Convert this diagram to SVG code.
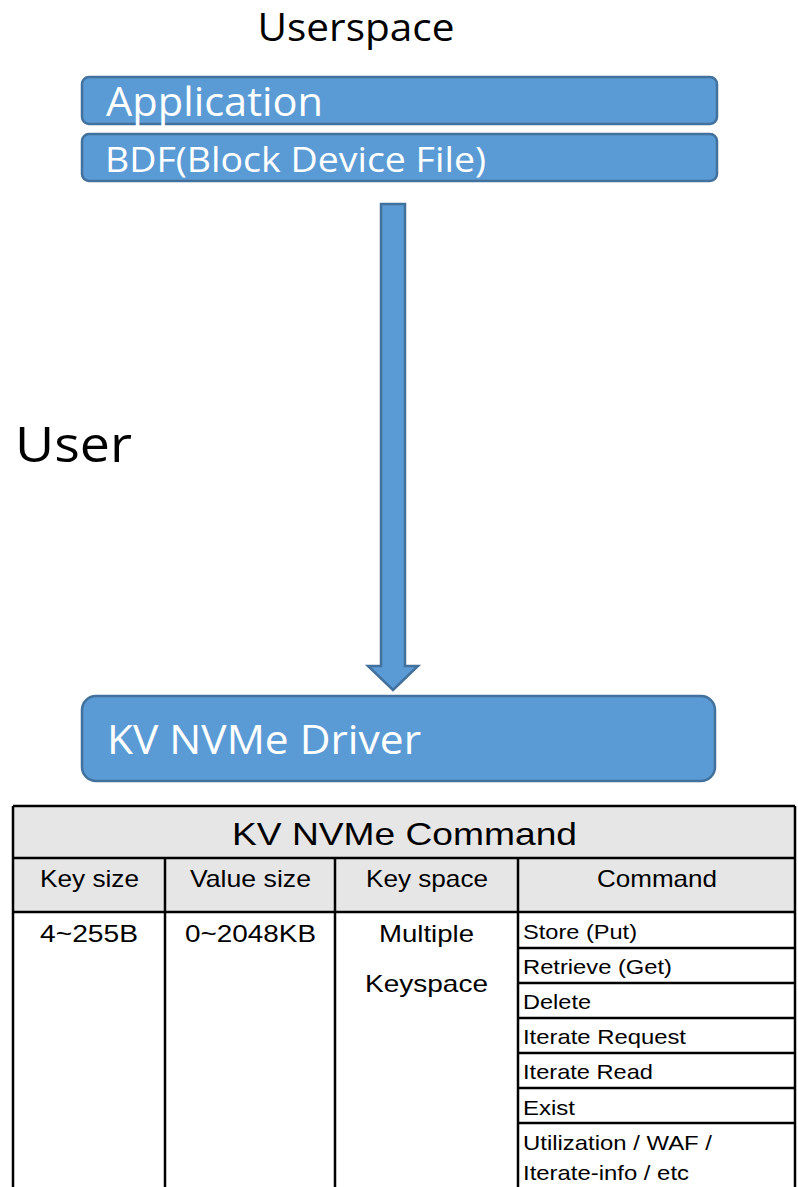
<svg xmlns="http://www.w3.org/2000/svg" width="798" height="1187" viewBox="0 0 798 1187">
  <style>
    .box { fill: #5B9BD5; stroke: #41719C; stroke-width: 2.5; }
    .btxt { fill: #ffffff; font-family: "Open Sans", "Noto Sans", sans-serif; }
    .ltxt { fill: #000000; font-family: "Open Sans", "Noto Sans", sans-serif; }
    .grid { stroke: #000000; stroke-width: 2.5; fill: none; }
    .hdr { fill: #E6E6E6; }
    .t { fill: #000000; font-family: "Liberation Sans", Arial, sans-serif; }
  </style>
  <rect width="798" height="1187" fill="#ffffff"/>

  <text class="ltxt" x="356" y="41" font-size="38" text-anchor="middle" textLength="197" lengthAdjust="spacingAndGlyphs">Userspace</text>
  <text class="ltxt" x="15" y="462" font-size="50" textLength="117" lengthAdjust="spacingAndGlyphs">User</text>

  <g id="application">
    <rect class="box" x="82" y="77" width="635" height="47" rx="7"/>
    <text class="btxt" x="106" y="116" font-size="40" textLength="217" lengthAdjust="spacingAndGlyphs">Application</text>
  </g>
  <g id="bdf">
    <rect class="box" x="82" y="134" width="635" height="47" rx="7"/>
    <text class="btxt" x="105" y="172" font-size="34" textLength="381" lengthAdjust="spacingAndGlyphs">BDF(Block Device File)</text>
  </g>

  <g id="connectors">
    <path class="box" d="M381,204 L405,204 L405,666 L418,666 L393,690 L368,666 L381,666 Z"/>
  </g>

  <g id="driver">
    <rect class="box" x="82" y="696" width="633" height="85" rx="14"/>
    <text class="btxt" x="107" y="754" font-size="40" textLength="314" lengthAdjust="spacingAndGlyphs">KV NVMe Driver</text>
  </g>

  <g id="command-table">
    <rect class="hdr" x="13" y="806" width="782" height="106"/>
    <rect x="13" y="912" width="782" height="280" fill="#ffffff"/>
    <path class="grid" d="M13,806 H795 M13,858 H795 M13,912 H795 M13,806 V1190 M795,806 V1190 M165,858 V1190 M335,858 V1190 M518,858 V1190"/>
    <path class="grid" d="M518,948 H795 M518,983 H795 M518,1018 H795 M518,1053 H795 M518,1088 H795 M518,1123 H795"/>

    <text class="t" x="232" y="845" font-size="32" textLength="345" lengthAdjust="spacingAndGlyphs">KV NVMe Command</text>
    <text class="t" x="40" y="887" font-size="24" textLength="99" lengthAdjust="spacingAndGlyphs">Key size</text>
    <text class="t" x="190" y="887" font-size="24" textLength="121" lengthAdjust="spacingAndGlyphs">Value size</text>
    <text class="t" x="366" y="887" font-size="24" textLength="122" lengthAdjust="spacingAndGlyphs">Key space</text>
    <text class="t" x="597" y="887" font-size="24" textLength="120" lengthAdjust="spacingAndGlyphs">Command</text>

    <text class="t" x="40" y="942" font-size="24" textLength="98" lengthAdjust="spacingAndGlyphs">4~255B</text>
    <text class="t" x="185" y="942" font-size="24" textLength="131" lengthAdjust="spacingAndGlyphs">0~2048KB</text>
    <text class="t" x="379" y="942" font-size="24" textLength="95" lengthAdjust="spacingAndGlyphs">Multiple</text>
    <text class="t" x="365" y="992" font-size="24" textLength="123" lengthAdjust="spacingAndGlyphs">Keyspace</text>

    <text class="t" x="523" y="939" font-size="21" textLength="114" lengthAdjust="spacingAndGlyphs">Store (Put)</text>
    <text class="t" x="523" y="974" font-size="21" textLength="149" lengthAdjust="spacingAndGlyphs">Retrieve (Get)</text>
    <text class="t" x="523" y="1009" font-size="21" textLength="68" lengthAdjust="spacingAndGlyphs">Delete</text>
    <text class="t" x="523" y="1044" font-size="21" textLength="163" lengthAdjust="spacingAndGlyphs">Iterate Request</text>
    <text class="t" x="523" y="1079" font-size="21" textLength="130" lengthAdjust="spacingAndGlyphs">Iterate Read</text>
    <text class="t" x="523" y="1115" font-size="21" textLength="52" lengthAdjust="spacingAndGlyphs">Exist</text>
    <text class="t" x="523" y="1150" font-size="21" textLength="189" lengthAdjust="spacingAndGlyphs">Utilization / WAF /</text>
    <text class="t" x="523" y="1180" font-size="21" textLength="166" lengthAdjust="spacingAndGlyphs">Iterate-info / etc</text>
  </g>
</svg>
